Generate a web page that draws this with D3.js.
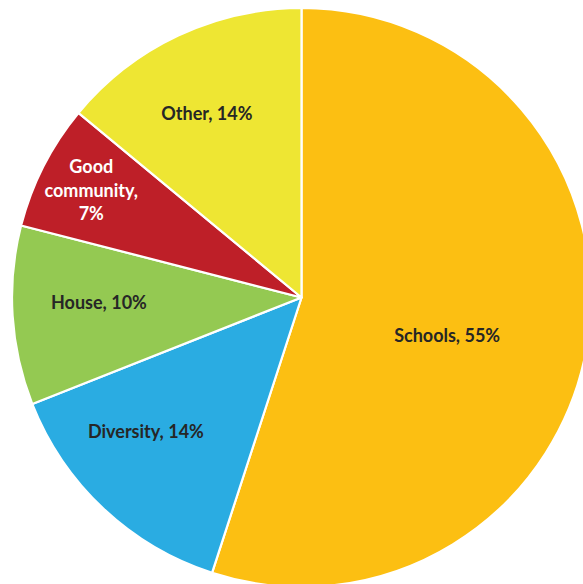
<!DOCTYPE html>
<html>
<head>
<meta charset="utf-8">
<script src="https://cdn.jsdelivr.net/npm/d3@7/dist/d3.min.js"></script>
<style>
  html, body { margin: 0; padding: 0; background: #ffffff; }
  svg { display: block; }
</style>
</head>
<body>
<svg id="chart" width="583" height="584"></svg>
<script>
// Reasons for choosing the neighbourhood (share of responses, %)
const categories = ["Schools", "Diversity", "House", "Good community", "Other"];
const values = [55, 14, 10, 7, 14];
const colors = ["#FCBF12", "#2AACE2", "#94C952", "#BE1F28", "#EEE633"];
const labelLines = [["Schools, 55%"], ["Diversity, 14%"], ["House, 10%"], ["Good", "community,", "7%"], ["Other, 14%"]];
const labelInk = ["#262626", "#262626", "#262626", "#ffffff", "#262626"];

// Label placement: fraction of radius and angular nudge (degrees)
const labelRadius = [0.52, 0.71, 0.70, 0.815, 0.715];
const labelShift = [5.7, 6, 2.2, 0, -2];

const cx = 301.5, cy = 297.5, R = 289.5;

const svg = d3.select("#chart");
const g = svg.append("g").attr("transform", `translate(${cx},${cy})`);

const data = categories.map((c, i) => ({ name: c, value: values[i], i }));

const pie = d3.pie().value(d => d.value).sort(null);
const arcs = pie(data);

const arc = d3.arc().innerRadius(0).outerRadius(R);

g.selectAll("path.slice")
  .data(arcs)
  .join("path")
  .attr("class", "slice")
  .attr("d", arc)
  .attr("fill", d => colors[d.data.i])
  .attr("stroke", "#ffffff")
  .attr("stroke-width", 2.2)
  .attr("stroke-linejoin", "round");

const lineH = 23.5;
const labels = g.selectAll("text.lbl")
  .data(arcs)
  .join("text")
  .attr("class", "lbl")
  .attr("text-anchor", "middle")
  .attr("font-family", "Lato, 'Open Sans', sans-serif")
  .attr("font-weight", 700)
  .attr("font-size", 18)
  .attr("fill", d => labelInk[d.data.i])
  .attr("transform", d => {
    const i = d.data.i;
    const a = (d.startAngle + d.endAngle) / 2 + labelShift[i] * Math.PI / 180;
    const r = labelRadius[i] * R;
    return `translate(${r * Math.sin(a)},${-r * Math.cos(a)})`;
  });

labels.each(function(d) {
  const lines = labelLines[d.data.i];
  const t = d3.select(this);
  const y0 = -((lines.length - 1) * lineH) / 2;
  lines.forEach((s, k) => {
    t.append("tspan")
      .attr("x", 0)
      .attr("y", y0 + k * lineH)
      .attr("dy", "0.35em")
      .text(s);
  });
});
</script>
</body>
</html>
